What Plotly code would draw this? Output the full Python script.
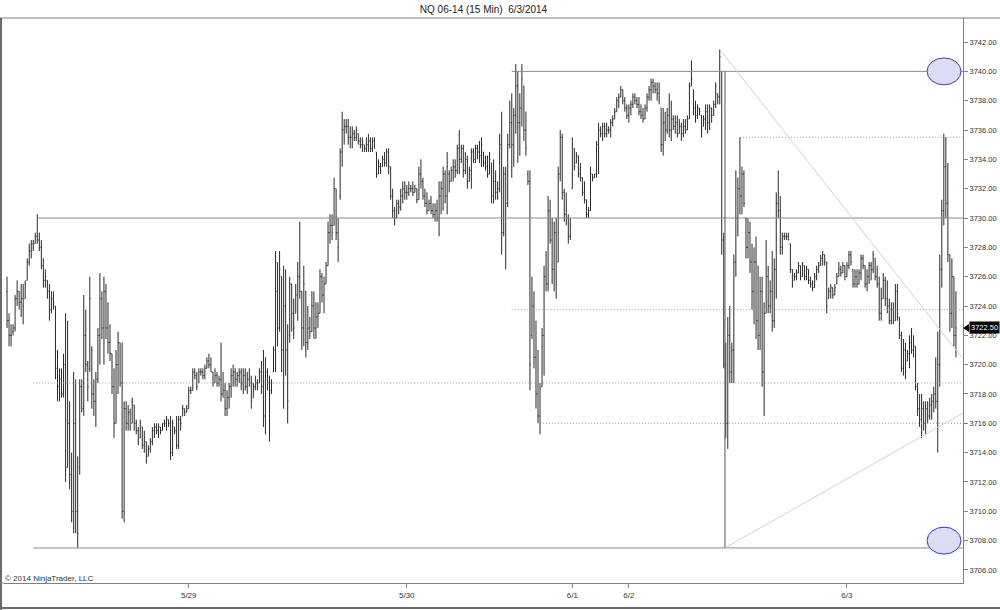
import plotly.graph_objects as go

opens = [3725,3723,3722,3722.25,3722.5,3724.5,3725,3724.25,3724.5,3724.5,
3725.75,3727,3727.75,3728.25,3728.25,3728.75,3728.5,3728,3726.75,3725.75,
3725.75,3725,3723.75,3724.5,3724,3719.75,3718.5,3719,3718,3720,
3713,3716,3712.5,3710,3716,3710,3713,3718.5,3717,3722,
3720,3719.75,3721,3718,3717.5,3719,3722,3724.5,3722.5,3725,
3722.5,3721.5,3720.75,3718.5,3716,3720,3721.5,3718.75,3710,3717,
3716,3716.75,3716,3717.25,3716,3715.5,3715,3715.75,3714.5,3714.75,
3713.75,3714.25,3714.75,3715.5,3715.75,3715.5,3715.75,3715.5,3716,3716,
3716.25,3716,3714,3715.75,3715.5,3714.5,3716.25,3716.5,3717,3716.75,
3717,3718.25,3718.25,3719.5,3719.25,3718.75,3719.5,3719.5,3719.25,3719.75,
3720.25,3720,3719.5,3718.75,3719.25,3718.75,3719,3718,3718.25,3717,
3717.75,3718.5,3719.25,3719.5,3719,3719.25,3719.5,3718.75,3719.25,3718.5,
3719,3718.75,3717.75,3718.5,3718.75,3718.75,3719.5,3718.5,3716.5,3719.5,
3718.75,3718.25,3719.5,3721,3725,3722.5,3726,3721,3724,3721,
3722,3725.5,3723.5,3723.5,3724.75,3726,3725,3722.5,3725,3721.5,
3722.5,3722.25,3724,3722.5,3723.25,3723.5,3726,3724.75,3725.5,3726.75,
3729,3729.5,3729.5,3732,3729,3731.5,3734.5,3736,3736.25,3736.25,
3735.5,3735.5,3735.75,3735.5,3735.75,3735.25,3735,3735,3734.75,3735,
3735.25,3734.75,3735.25,3734.5,3733,3733.5,3733.5,3734,3733.75,3734.5,
3733.5,3731.5,3730.5,3730,3731,3730.75,3731.5,3732,3731.75,3731.75,
3732,3732,3731.75,3732,3731.25,3733,3732.5,3731.5,3731,3730.5,
3731,3730.5,3730.25,3730.5,3730,3731.5,3732,3733,3731.5,3733,
3732.5,3733.25,3733.5,3733.25,3734.75,3734,3734.75,3733.25,3734,3732.5,
3733.25,3734.5,3734,3734.75,3734.5,3734.25,3734.5,3733.75,3733.5,3733,
3733.75,3731.5,3732.5,3731.75,3732,3735,3729,3733,3731,3735,
3736.5,3735,3737,3739,3736.5,3737.5,3739,3736,3733,3732.5,
3722,3724,3720.5,3718,3716.5,3718.5,3722,3726,3725.5,3730.5,
3728.5,3726.5,3729,3727,3733,3735.5,3731.75,3730.25,3730,3728.75,
3732,3734.75,3733.75,3734.25,3733,3732.75,3731.75,3731.25,3730.25,3730.5,
3733,3732.75,3733,3735,3736,3735.75,3736.25,3735.75,3736,3736,
3736.5,3736.75,3737.25,3738,3738.25,3738.75,3738,3737.5,3737,3737.5,
3737.75,3738.25,3738,3737.75,3737.25,3737,3736.75,3737.5,3738.25,3738.75,
3739.25,3739,3738.75,3738.5,3737.5,3735,3736.5,3736,3737,3736,
3736.75,3736.25,3736.5,3735.75,3736.25,3735.75,3736.25,3736,3736.75,3739,
3738.75,3737.5,3737,3737.5,3737,3736.25,3736.75,3737.25,3736.5,3737.5,
3737,3737.75,3738.5,3738.25,3740,3728.5,3720,3716,3722,3719.5,
3721,3727,3730,3732,3731.5,3733,3730,3728,3729,3727,
3725,3727,3723,3722,3725,3719.5,3723.5,3726,3724,3725,
3723,3726.5,3731,3730.5,3728,3728.75,3728.75,3728.75,3728.25,3726.5,
3725.75,3726,3726.25,3726.75,3726,3726.75,3726,3726.5,3725.75,3725.5,
3725.25,3726,3726.5,3726.75,3727.25,3727.5,3727,3724.5,3725,3725.25,
3724.75,3725.5,3726,3726.5,3726.25,3726.75,3726,3726.75,3727.5,3726.5,
3725.5,3726,3725.5,3726.25,3727.25,3726.75,3725.5,3726,3726.75,3726.5,
3727.25,3726,3725.5,3723.5,3724.5,3725.75,3724.5,3724,3723,3723.75,
3723,3725,3723.25,3722,3719.75,3721,3720.25,3720.75,3721.5,3721,
3721.25,3718.5,3717,3716.25,3717,3716,3717,3716.5,3717.25,3717.5,
3718,3717.5,3720,3726.5,3730.5,3733.5,3731,3727.5,3723.5,3726,
3722]

highs = [3726,3723.5,3722.75,3722.75,3724.75,3725.75,3725,3725.5,3725.5,3725.75,
3727.25,3728.25,3728.5,3728.5,3729,3730.25,3729,3728.5,3727.25,3726.5,
3725.75,3725.5,3725,3725,3724,3721,3719.75,3719.75,3720.75,3723.5,
3723,3717.5,3714,3719.5,3719,3713.75,3719,3719,3724.75,3723.75,
3720.25,3726,3721.25,3719,3719.5,3722.5,3726.25,3725,3726,3725.5,
3724.25,3722.75,3720.75,3719.75,3721,3722.25,3721.5,3721.5,3717.5,3717.5,
3717.25,3717,3717.75,3717.25,3716.25,3715.75,3716.25,3715.75,3715.5,3714.75,
3714.5,3715,3715.75,3716,3716,3716,3715.75,3716,3716.25,3716.5,
3716.25,3716.5,3716.25,3715.75,3716.5,3716.5,3716.5,3717.25,3717,3717.25,
3718.5,3718.5,3719.75,3719.75,3719.5,3719.75,3719.75,3719.75,3720,3720.5,
3720.75,3720.5,3719.5,3719.75,3719.5,3719.25,3721.5,3719.5,3718.75,3718.25,
3718.75,3719.75,3720,3719.75,3719.5,3719.75,3719.75,3719.75,3719.75,3719.5,
3719.75,3719.25,3718.75,3719.25,3719,3719.75,3720.25,3721,3720.5,3719.75,
3719.25,3719,3721.25,3727.75,3727,3727.75,3726,3726.75,3726.5,3722.75,
3726,3725.5,3724.5,3725.5,3727,3729.75,3725,3726.75,3725,3724,
3723.25,3725,3725,3724.25,3724.25,3726.5,3726.25,3726,3727,3729.75,
3730.25,3730.25,3732.75,3732,3730,3734.75,3737.25,3736.75,3736.75,3736.75,
3736.25,3736.25,3736,3736.25,3735.75,3735.5,3735.5,3735,3735.5,3735.75,
3735.5,3735.5,3735.5,3734.5,3734,3733.75,3734.25,3734.5,3734.75,3734.75,
3733.5,3732,3730.75,3731.25,3731.25,3732,3732.5,3732.5,3732.25,3732.5,
3732.25,3732.5,3732.25,3732,3733.5,3734,3732.75,3732,3731.75,3731.25,
3731.5,3731,3731,3731.25,3732.5,3732.5,3733.5,3733.25,3734.5,3733.25,
3733.5,3734,3734,3735,3736,3735,3735,3734.5,3734.25,3733.5,
3734.75,3734.75,3735,3735,3735.25,3735.5,3734.5,3734.25,3734.25,3734.5,
3733.75,3734,3733.25,3732.5,3735.75,3737.25,3733.5,3733.5,3735.75,3738,
3738.5,3737.5,3740.5,3740,3738.5,3740.5,3739,3737.25,3733.25,3733.25,
3726,3725,3723,3721,3718.75,3722.5,3726.75,3727.75,3731.5,3731.25,
3730,3729.75,3730,3733.5,3736,3735.75,3732,3731.75,3730.25,3730,
3735.5,3734.75,3734.5,3734.25,3733.75,3732.75,3732.5,3731.25,3730.75,3733.5,
3733,3733,3735.25,3736.5,3736.25,3736.5,3736.5,3736.5,3736.25,3736.75,
3737,3737.5,3738.25,3738.5,3739,3738.75,3738.25,3737.75,3737.75,3738,
3738.5,3738.5,3738.25,3738.25,3737.75,3737.5,3737.75,3738.5,3739,3739.5,
3739.5,3739.25,3739.25,3739.25,3737.5,3737.5,3737.25,3737.5,3738.5,3738,
3737,3737,3737,3736.75,3736.5,3736.75,3736.75,3737,3739.25,3740.75,
3738.75,3738,3737.75,3737.5,3737,3737,3737.75,3737.75,3737.75,3737.5,
3738,3739.25,3738.5,3741.5,3740,3729,3721.5,3723.25,3724,3721.5,
3727.5,3733.25,3732.75,3735.5,3733.5,3733.25,3730,3730,3729.75,3728.25,
3728,3728.75,3726.75,3726,3726,3724.25,3728.5,3726.75,3725.75,3727.75,
3727.25,3731.75,3733.25,3731.5,3729,3729,3729,3729,3728.25,3726.5,
3726.25,3726.5,3727,3726.75,3727,3726.75,3726.75,3726.5,3726,3725.75,
3726.25,3726.75,3727,3727.5,3727.75,3727.5,3727,3725.25,3725.5,3725.25,
3725.5,3726.25,3727,3726.75,3727,3726.75,3727,3727.75,3727.75,3726.5,
3726.5,3726.5,3726.5,3727.5,3727.5,3726.75,3726.5,3727,3727,3727.75,
3727.25,3726.75,3726,3725.25,3726.25,3726,3725.75,3724.5,3724.25,3724.25,
3725.5,3725.5,3723.25,3722.25,3721.75,3721.5,3721,3722,3722.5,3722,
3721.25,3718.75,3718,3718,3717.5,3717.5,3717.5,3717.75,3718,3718.5,
3720.5,3722.25,3727.5,3731.25,3735.75,3735.5,3733.75,3727.5,3727.25,3726,
3725]

lows = [3722.5,3721.25,3721.25,3722,3722.25,3724,3723.75,3723.25,3722.75,3724.5,
3725.75,3726.75,3727.25,3727.75,3728.25,3728.25,3727.75,3726.5,3725.25,3725.25,
3724.5,3723,3723.5,3723.75,3719,3717.5,3717.5,3717.75,3717.75,3712,
3713,3711.5,3709.25,3708.5,3708.5,3707.5,3712.5,3716.75,3716.5,3719.5,
3717.5,3719.5,3717,3716.5,3715.75,3718.75,3720,3721.75,3720,3721.75,
3720.75,3720.25,3718,3715,3716,3718,3718.5,3709.5,3709.25,3715.5,
3715.5,3715.5,3716,3715.5,3715.25,3714.5,3715,3714.25,3714,3713.25,
3713.75,3714,3714.5,3715,3715.25,3715,3715.25,3715.5,3715.75,3715.5,
3715.75,3713.5,3713.75,3715.25,3714.25,3714.25,3715.5,3716.5,3716.5,3716.75,
3717,3718,3718.25,3719,3718.25,3718.75,3719.25,3719,3719,3719.75,
3719.75,3719.5,3718.5,3718.75,3718.5,3718.5,3717.5,3717.75,3716.5,3716.5,
3717,3717.75,3718.5,3718.5,3718.5,3718.75,3718.25,3718,3718.25,3718,
3718.5,3717,3717.75,3718.25,3718.25,3718.75,3718,3715.75,3715.25,3718.25,
3714.75,3718,3719.5,3719.5,3721.25,3722.25,3719.5,3717,3719.25,3716,
3721.5,3722.25,3721.75,3723.5,3723,3724.5,3721,3721.25,3720.5,3721,
3721.75,3722.25,3721.75,3721.75,3722.5,3723.5,3724.25,3723.5,3725.5,3726.75,
3728.25,3728.5,3729.5,3728.5,3727,3731.25,3733.5,3735,3735.75,3735,
3734.75,3734.75,3735.25,3735.25,3735,3734.75,3734.5,3734.5,3734.5,3734.5,
3734.5,3734.5,3734.75,3732.75,3733,3733,3733.5,3733.5,3733.5,3733,
3731.25,3730,3729.5,3730,3730.25,3730.5,3731,3731.25,3731.25,3731.5,
3731.75,3731.5,3731.75,3731,3731.25,3732,3731.25,3730.75,3730.25,3730.5,
3730.25,3730,3729.75,3729.75,3728.75,3730.25,3730.5,3731,3730.25,3731.75,
3732.5,3732.5,3732.75,3733,3733,3733.75,3732.75,3733,3732,3732.5,
3732,3733.75,3733.75,3734,3733.75,3733.5,3733.5,3733.25,3732.75,3733,
3731,3731,3731.25,3731.25,3731.75,3727.5,3728.75,3726.5,3730.75,3734.75,
3732.75,3733.5,3735.75,3733.75,3734.25,3736.25,3735.25,3734.25,3732.25,3718.25,
3721.75,3719.75,3717,3716,3715.25,3718.5,3719.25,3725,3725,3728.25,
3725.5,3725,3724.5,3727,3732.5,3731.25,3729.75,3729.5,3728.25,3728.5,
3732,3733.25,3733.75,3732.75,3732.5,3731.5,3731,3730,3730,3730.5,
3732.5,3732.75,3732.75,3733,3735.5,3735.25,3735.5,3735.5,3735.75,3735.5,
3736.25,3736.75,3737.25,3737.5,3738.25,3737.75,3737.25,3736.75,3736.5,3737,
3737.5,3737.75,3737.5,3737,3736.75,3736.5,3736.75,3737.25,3738,3738,
3738.5,3738.5,3738,3737.75,3734.5,3734.25,3735.25,3735.75,3735.5,3735.25,
3736,3735.75,3735.5,3735.75,3735.25,3735.5,3735.75,3736,3736.75,3739,
3737,3736.5,3736.75,3737,3735.5,3736.25,3736,3735.75,3736,3736.5,
3737,3737.5,3737.75,3737.75,3727.5,3719.75,3715,3714.25,3718.75,3718.75,
3718.75,3726,3728.75,3730.25,3730.25,3730.75,3727.25,3727.25,3726.25,3723.75,
3722.75,3721.75,3721,3721,3718.5,3716.5,3723.5,3723.5,3723.5,3722.25,
3722.5,3724.5,3730,3727.5,3727.5,3728.5,3728.5,3728.5,3726.25,3725.25,
3725.75,3725.75,3726.25,3725.75,3726,3725.75,3725.75,3725.5,3725.25,3725,
3725.25,3725.75,3726.25,3726.75,3726.75,3726.75,3723.5,3724.5,3724.5,3724.5,
3724.75,3725.5,3726,3726,3726.25,3725.75,3726,3726.5,3726.75,3725.25,
3725.25,3725.25,3725.5,3725.75,3726.5,3725.25,3725,3725.5,3725.75,3726.25,
3725.75,3725.25,3723,3723,3724.5,3724,3723.5,3722.75,3722.75,3722.75,
3723,3723,3721.75,3719.5,3719.25,3719,3720.25,3719.75,3720.75,3720.5,
3718.25,3716.5,3715.75,3715,3715.5,3715.25,3716,3716.25,3716.25,3716.75,
3717,3714,3718.5,3725.25,3729.5,3730,3727,3722.25,3722.5,3721.25,
3720.5]

closes = [3723,3722,3722,3722.5,3724.5,3725,3724.25,3724.5,3724,3725.5,
3727,3727.75,3728.25,3728,3728.75,3728.5,3728,3726.75,3725.75,3726,
3725,3723.75,3724.5,3724.25,3719.75,3718.5,3719,3718,3720,3713,
3716,3712.5,3710,3716,3710,3708.5,3718.5,3717,3722,3720,
3718.5,3724.5,3718,3717.5,3719,3722,3724.5,3722.5,3725,3722.5,
3721.5,3720.75,3718.5,3716,3720,3721.5,3718.75,3710,3717,3716,
3716.75,3715.75,3717.5,3716,3715.5,3714.75,3716,3714.5,3715,3713.5,
3714.25,3714.75,3715.5,3715.75,3715.5,3715.75,3715.5,3716,3716,3716.25,
3716,3714,3716,3715.5,3714.5,3716.25,3716,3717,3716.75,3717,
3718.25,3718.25,3719.5,3719.25,3718.5,3719.5,3719.5,3719.25,3719.75,3720.25,
3720,3719.5,3718.75,3719.25,3718.75,3719,3718,3718.25,3717,3717.75,
3718.5,3719.25,3719.5,3719,3719.25,3719.5,3718.75,3719.25,3718.5,3719,
3718.75,3717.5,3718.5,3718.75,3718.5,3719.5,3718.5,3716.5,3719.5,3718.75,
3718.25,3718.75,3721,3725,3722.5,3726.5,3721,3724,3721,3717.5,
3725.5,3723.5,3722.5,3724.75,3726,3725,3722.5,3725.5,3721.5,3722.5,
3722.25,3724,3722.5,3723.25,3723.5,3726,3724.75,3725.5,3726.75,3729,
3729.5,3729,3732,3729,3728,3734.5,3736,3736.25,3736.25,3735.5,
3735.5,3735.75,3735.5,3736,3735.25,3735,3735.25,3734.75,3735,3735.25,
3734.75,3735.25,3734.75,3733,3733.5,3733.25,3734,3733.75,3734.5,3733.5,
3731.5,3730.5,3730,3731,3730.75,3731.5,3732,3731.75,3731.75,3732,
3732,3731.75,3732,3731.25,3733,3732.5,3731.5,3731,3730.5,3731,
3730.5,3730.25,3730.5,3730,3731.5,3732,3733,3731.5,3733.5,3732.5,
3733.25,3733.5,3733.25,3734.75,3734,3734.75,3733.25,3734,3732.5,3733.25,
3734.5,3734,3734.75,3734.5,3734.25,3735,3733.75,3733.5,3733,3734,
3731.5,3732.5,3731.75,3732,3735,3729,3733,3731,3735,3736.5,
3735,3737,3739,3736.5,3737.5,3739.5,3736,3734.75,3732.5,3720,
3724,3720.5,3718,3716.5,3716,3722,3726,3725.5,3730.5,3728.5,
3726.5,3729,3725.5,3733,3735.5,3731.75,3730.25,3730.5,3728.75,3729.5,
3735,3733.5,3734.25,3733,3732.75,3731.75,3731.25,3730.25,3730.5,3733,
3732.75,3733,3735,3736,3735.75,3736.25,3735.75,3736,3736,3736.5,
3736.75,3737.25,3738,3738.25,3738.75,3738,3737.5,3737,3737.5,3737.75,
3738.25,3738,3737.75,3737.25,3737,3736.75,3737.5,3738.25,3738.75,3739.25,
3739,3738.75,3738.5,3738,3735,3736.5,3736,3737,3736,3736.75,
3736.25,3736.5,3735.75,3736.25,3735.75,3736.25,3736,3736.75,3739,3739.5,
3737.5,3737,3737.5,3737.25,3736,3736.75,3737.25,3736.5,3737.5,3737,
3737.75,3739,3738.25,3741,3728.5,3720,3716,3722,3719.5,3721,
3727,3730,3732,3731.5,3733,3731,3728,3729,3727,3725,
3727,3723,3722,3725,3719.5,3723.5,3726,3724,3725,3723,
3726.5,3731,3730.5,3728,3728.75,3728.75,3728.75,3728.5,3726.5,3725.5,
3726,3726.25,3726.75,3726,3726.75,3726,3726.5,3725.75,3725.5,3725.25,
3726,3726.5,3726.75,3727.25,3727.5,3727,3724,3725,3725.25,3724.75,
3725.25,3726,3726.5,3726.25,3726.75,3726,3726.75,3727.5,3727,3725.5,
3726,3725.5,3726.25,3727.25,3726.75,3725.5,3726,3726.75,3726.5,3727.5,
3726,3725.5,3723.5,3724.5,3725.75,3724.5,3724,3723,3723.75,3723,
3725,3723.5,3722,3719.75,3721,3719.5,3720.75,3721.5,3721,3721.25,
3718.5,3717,3716.25,3717,3716,3717,3716.5,3717.25,3717.5,3718,
3717.5,3720,3726.5,3730.5,3733.5,3731,3727.5,3723.5,3726,3722,
3722.5]

# date labels: bar index where each session date starts
date_labels = ["5/29", "5/30", "6/1", "6/2", "6/3"]
date_bars = [90, 198, 280, 308, 416]

# drawn horizontal levels: (price, start bar, style)
level_prices = [3730.0, 3707.5, 3718.75, 3740.0, 3723.75, 3716.0, 3735.5]
level_starts = [15, 13, 13, 250, 250, 264, 363]
level_dash = ["solid", "solid", "dot", "solid", "dot", "dot", "dot"]

# drawn vertical line (bar, from price, to price)
vline_bar = 355.6
vline_prices = [3707.5, 3740.0]

# drawn diagonals (start bar, start price, end price at right edge)
diag_starts = [353, 355.6]
diag_start_prices = [3741.5, 3707.5]
diag_end_prices = [3720.4, 3716.7]

# highlighted ellipses (price centre)
ellipse_prices = [3740.0, 3708.0]
last_price = 3722.5

n = len(highs)
x = list(range(n))

FONT = "Liberation Sans, Arial, sans-serif"
BAR = "#2a2a2a"
x_lo, x_hi = -1.5, 473.5
y_lo, y_hi = 3705.11, 3743.64

fig = go.Figure()
fig.add_trace(go.Ohlc(
    x=x, open=opens, high=highs, low=lows, close=closes,
    increasing=dict(line=dict(color=BAR, width=1)),
    decreasing=dict(line=dict(color=BAR, width=1)),
    tickwidth=0.4, hoverinfo="skip", showlegend=False,
))

shapes = []
for p, s, d in zip(level_prices, level_starts, level_dash):
    shapes.append(dict(type="line", xref="x", yref="y", x0=s, x1=x_hi, y0=p, y1=p,
                       line=dict(color="#8c8c8c" if d == "solid" else "#9a9a9a", width=1,
                                 dash="solid" if d == "solid" else "1px,2px")))
shapes.append(dict(type="line", xref="x", yref="y", x0=vline_bar, x1=vline_bar,
                   y0=vline_prices[0], y1=vline_prices[1], line=dict(color="#555555", width=1)))
for s, p0, p1 in zip(diag_starts, diag_start_prices, diag_end_prices):
    shapes.append(dict(type="line", xref="x", yref="y", x0=s, x1=x_hi, y0=p0, y1=p1,
                       line=dict(color="#d0d0d0", width=1)))
for p in ellipse_prices:
    shapes.append(dict(type="circle", xref="x", yref="y", x0=455.7, x1=472.5,
                       y0=p - 0.92, y1=p + 0.92,
                       fillcolor="#dcdcf5", line=dict(color="#3a3ab8", width=1)))
# frame lines
shapes += [
    dict(type="line", xref="paper", yref="paper", x0=-4/959, x1=996/959, y0=1, y1=1,
         line=dict(color="#808080", width=1)),
    dict(type="line", xref="paper", yref="paper", x0=-3/959, x1=-3/959, y0=-27/565, y1=1,
         line=dict(color="#6a6a6a", width=2)),
    dict(type="line", xref="paper", yref="paper", x0=-4/959, x1=996/959, y0=-25/565, y1=-25/565,
         line=dict(color="#6a6a6a", width=2)),
    dict(type="line", xref="paper", yref="paper", x0=-4/959, x1=0, y0=0, y1=0,
         line=dict(color="#808080", width=1)),
]
# last price marker arrow
shapes.append(dict(type="path", xref="paper", yref="y",
                   path=f"M {1+0.0/959} {last_price} L {1+6/959} {last_price+0.28} L {1+6/959} {last_price-0.28} Z",
                   fillcolor="black", line=dict(color="black", width=0)))

fig.update_layout(
    width=1000, height=610,
    margin=dict(l=4, r=37, t=18, b=27, autoexpand=False),
    paper_bgcolor="white", plot_bgcolor="white",
    font=dict(family=FONT, size=8, color="#333333"),
    shapes=shapes,
    title=dict(text="NQ 06-14 (15 Min)  6/3/2014", x=0.5, xref="paper", xanchor="center",
               y=1 - 9/610, yanchor="middle", font=dict(family=FONT, size=10, color="#222222")),
    xaxis=dict(range=[x_lo, x_hi], rangeslider=dict(visible=False), showgrid=False, zeroline=False,
               tickmode="array", tickvals=date_bars, ticktext=date_labels,
               ticks="outside", ticklen=4, tickcolor="#808080", showline=True, linecolor="#808080",
               tickfont=dict(size=8, color="#333333")),
    yaxis=dict(range=[y_lo, y_hi], side="right", showgrid=False, zeroline=False,
               tickmode="array", tickvals=[3706 + 2*i for i in range(19)],
               ticktext=[f"{3706 + 2*i:.2f}" for i in range(19)],
               ticks="outside", ticklen=4, tickcolor="#808080", showline=True, linecolor="#808080",
               tickfont=dict(size=7.5, color="#333333")),
    annotations=[
        dict(text="© 2014 NinjaTrader, LLC", xref="paper", yref="paper", x=-1/959, y=5/565,
             xanchor="left", yanchor="middle", showarrow=False, font=dict(size=8, color="#333333")),
        dict(text=f"{last_price:.2f}", xref="paper", yref="y", x=1 + 6/959, y=last_price,
             xanchor="left", yanchor="middle", showarrow=False, bgcolor="black",
             font=dict(size=7.5, color="white"), borderpad=1),
    ],
)

fig.write_html("out.html", config={"displayModeBar": False},
               post_script="document.body.style.margin='0';document.body.style.overflow='hidden';")
